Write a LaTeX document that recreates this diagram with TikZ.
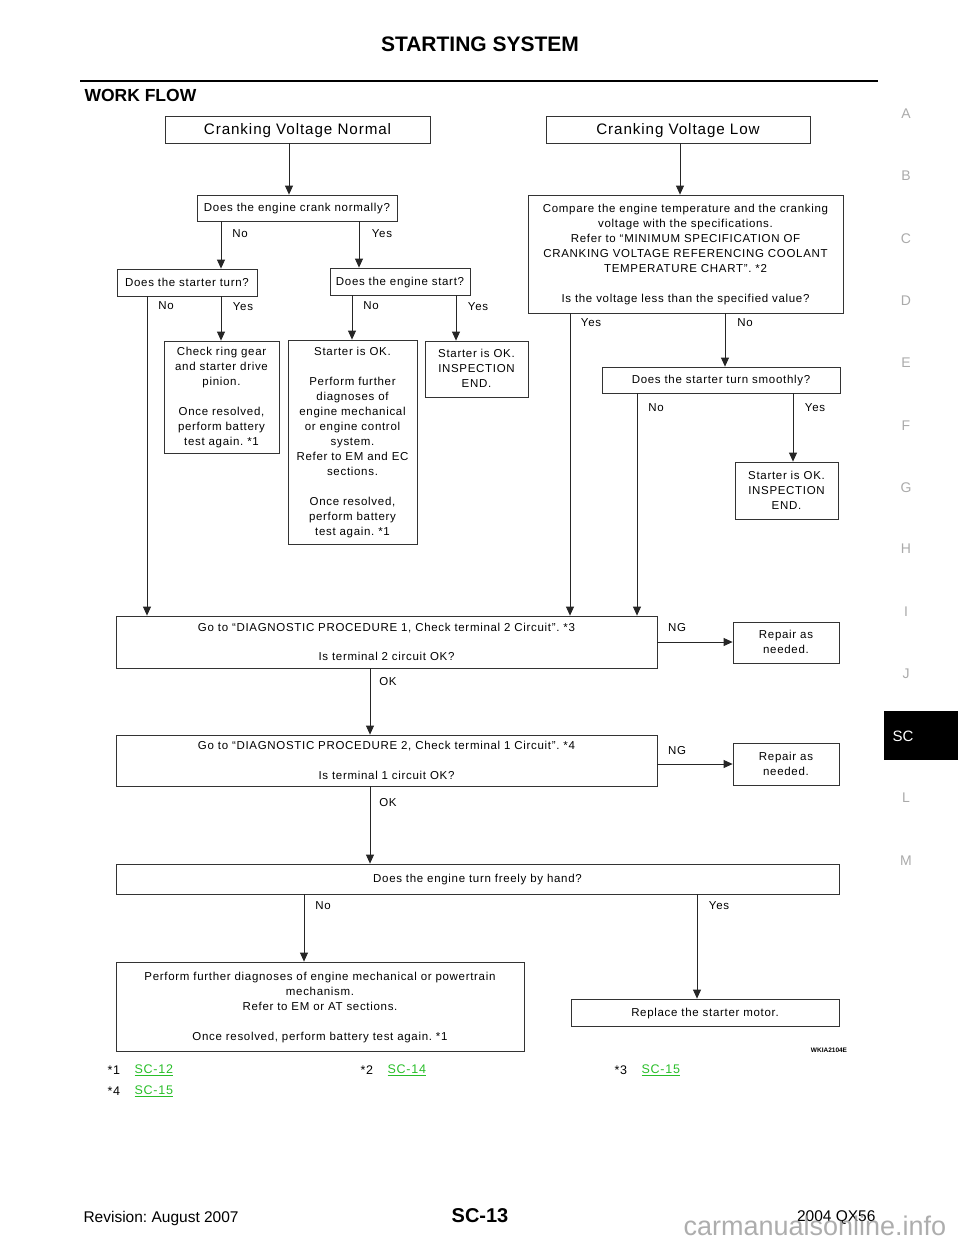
\documentclass[tikz,border=0pt]{standalone}
\usepackage{fontspec}
\setmainfont{Liberation Sans}[LetterSpace=6]
\newfontfamily\headfont{Liberation Sans}
\usetikzlibrary{arrows.meta}
\definecolor{linkgreen}{RGB}{40,190,40}
\definecolor{tabgray}{RGB}{170,170,170}
\frenchspacing

\begin{document}
\begin{tikzpicture}[x=1pt, y=-1pt,
    box/.style={draw=black!80, line width=0.8pt, align=center, inner sep=0pt, text depth=0.5pt, font=\fontsize{11.5}{15}\selectfont},
    title/.style={box, font=\fontsize{15.2}{18}\selectfont},
    flow/.style={draw=black!85, line width=0.8pt, -{Triangle[length=9pt,width=8pt]}},
    lbl/.style={font=\fontsize{11.5}{13}\selectfont},
    tab/.style={text=tabgray, font=\headfont\fontsize{14}{16}\selectfont},
    link/.style={text=linkgreen, anchor=west, font=\fontsize{12.5}{14}\selectfont},
    note/.style={anchor=west, font=\fontsize{12.5}{14}\selectfont}]
  \useasboundingbox (0,0) rectangle (960,1242);

  % page head
  \node[font=\headfont\bfseries\fontsize{21}{24}\selectfont] (head) at (480,44) {STARTING SYSTEM};
  \draw[line width=2.5pt] (80,81) -- (878,81);
  \node[anchor=west, font=\headfont\bfseries\fontsize{17.5}{20}\selectfont] (work) at (81,95) {WORK FLOW};

  % side tabs
  \foreach \l/\y in {A/114, B/176, C/239, D/301, E/363, F/426, G/488, H/549, I/612, J/674, L/798, M/861}
    \node[tab] (tab-\l) at (906,\y) {\l};
  \fill[black] (884,711) rectangle (958,760);
  \node[text=white, font=\headfont\fontsize{15}{17}\selectfont] (tab-SC) at (903,736) {SC};

  % top row
  \node[title, minimum width=265pt, minimum height=27pt] (normal) at (297.5,129.5) {Cranking Voltage Normal};
  \node[title, minimum width=264pt, minimum height=27pt] (low) at (678,129.5) {Cranking Voltage Low};

  \node[box, minimum width=200pt, minimum height=26pt] (crank) at (297,208) {Does the engine crank normally?};
  \node[box, minimum width=315pt, minimum height=118pt] (compare) at (685.5,254)
    {Compare the engine temperature and the cranking\\voltage with the specifications.\\Refer to “MINIMUM SPECIFICATION OF\\CRANKING VOLTAGE REFERENCING COOLANT\\TEMPERATURE CHART”. *2\\[15pt]Is the voltage less than the specified value?};

  \node[box, minimum width=140pt, minimum height=27pt] (turn) at (187,282.5) {Does the starter turn?};
  \node[box, minimum width=140pt, minimum height=27pt] (start) at (400,281.5) {Does the engine start?};

  \node[box, minimum width=115pt, minimum height=112pt] (ring) at (221.5,397)
    {Check ring gear\\and starter drive\\pinion.\\[15pt]Once resolved,\\perform battery\\test again. *1};
  \node[box, minimum width=129pt, minimum height=204pt] (further) at (352.5,442)
    {Starter is OK.\\[15pt]Perform further\\diagnoses of\\engine mechanical\\or engine control\\system.\\Refer to EM and EC\\sections.\\[15pt]Once resolved,\\perform battery\\test again. *1};
  \node[box, minimum width=103pt, minimum height=56pt] (endA) at (476.5,369) {Starter is OK.\\INSPECTION\\END.};

  \node[box, minimum width=238pt, minimum height=26pt] (smooth) at (721,380) {Does the starter turn smoothly?};
  \node[box, minimum width=103pt, minimum height=57pt] (endB) at (786.5,490.5) {Starter is OK.\\INSPECTION\\END.};

  % circuit checks
  \node[box, minimum width=541pt, minimum height=52pt] (diagA) at (386.5,642)
    {Go to “DIAGNOSTIC PROCEDURE 1, Check terminal 2 Circuit”. *3\\[14pt]Is terminal 2 circuit OK?};
  \node[box, minimum width=106pt, minimum height=41pt] (repairA) at (786,642.5) {Repair as\\needed.};
  \node[box, minimum width=541pt, minimum height=51pt] (diagB) at (386.5,760.5)
    {Go to “DIAGNOSTIC PROCEDURE 2, Check terminal 1 Circuit”. *4\\[15pt]Is terminal 1 circuit OK?};
  \node[box, minimum width=106pt, minimum height=42pt] (repairB) at (786,764) {Repair as\\needed.};

  \node[box, minimum width=723pt, minimum height=30pt] (hand) at (477.5,879) {Does the engine turn freely by hand?};
  \node[box, minimum width=408pt, minimum height=89pt] (power) at (320,1006.5)
    {Perform further diagnoses of engine mechanical or powertrain\\mechanism.\\Refer to EM or AT sections.\\[15pt]Once resolved, perform battery test again. *1};
  \node[box, minimum width=268pt, minimum height=27pt] (replace) at (705,1012.5) {Replace the starter motor.};

  % connectors
  \draw[flow] (normal.south -| 289,0) -- (crank.north -| 289,0);
  \draw[flow] (low.south -| 680,0) -- (compare.north -| 680,0);
  \draw[flow] (crank.south -| 221,0) -- (turn.north -| 221,0);
  \draw[flow] (crank.south -| 359,0) -- (start.north -| 359,0);
  \draw[flow] (turn.south -| 147,0) -- (diagA.north -| 147,0);
  \draw[flow] (turn.south -| 221,0) -- (ring.north -| 221,0);
  \draw[flow] (start.south -| 352,0) -- (further.north -| 352,0);
  \draw[flow] (start.south -| 456,0) -- (endA.north -| 456,0);
  \draw[flow] (compare.south -| 570,0) -- (diagA.north -| 570,0);
  \draw[flow] (compare.south -| 725,0) -- (smooth.north -| 725,0);
  \draw[flow] (smooth.south -| 637,0) -- (diagA.north -| 637,0);
  \draw[flow] (smooth.south -| 793,0) -- (endB.north -| 793,0);
  \draw[flow] (diagA.east) -- (diagA.east -| repairA.west);
  \draw[flow] (diagA.south -| 370,0) -- (diagB.north -| 370,0);
  \draw[flow] (repairB.west -| diagB.east) -- (repairB.west);
  \draw[flow] (diagB.south -| 370,0) -- (hand.north -| 370,0);
  \draw[flow] (hand.south -| 304,0) -- (power.north -| 304,0);
  \draw[flow] (hand.south -| 697,0) -- (replace.north -| 697,0);

  % branch labels
  \node[lbl] (no1) at (240,234) {No};
  \node[lbl] (yes1) at (382,234) {Yes};
  \node[lbl] (no2) at (166,306) {No};
  \node[lbl] (yes2) at (243,307) {Yes};
  \node[lbl] (no3) at (371,306) {No};
  \node[lbl] (yes3) at (478,307) {Yes};
  \node[lbl] (yes4) at (591,323) {Yes};
  \node[lbl] (no4) at (745,323) {No};
  \node[lbl] (no5) at (656,408) {No};
  \node[lbl] (yes5) at (815,408) {Yes};
  \node[lbl] (ng1) at (677,628) {NG};
  \node[lbl] (ok1) at (388,682) {OK};
  \node[lbl] (ng2) at (677,751) {NG};
  \node[lbl] (ok2) at (388,803) {OK};
  \node[lbl] (no6) at (323,906) {No};
  \node[lbl] (yes6) at (719,906) {Yes};

  \node[font=\headfont\bfseries\fontsize{6.5}{7}\selectfont] (code) at (829,1050) {WKIA2104E};

  % references
  \node[note] (r1) at (104,1070) {*1};
  \node[link] (s1) at (131,1070) {\underline{SC-12}};
  \node[note] (r2) at (357,1070) {*2};
  \node[link] (s2) at (384,1070) {\underline{SC-14}};
  \node[note] (r3) at (611,1070) {*3};
  \node[link] (s3) at (638,1070) {\underline{SC-15}};
  \node[note] (r4) at (104,1091) {*4};
  \node[link] (s4) at (131,1091) {\underline{SC-15}};

  % page foot
  \node[anchor=west, font=\headfont\fontsize{15.5}{17}\selectfont] (rev) at (80,1218) {Revision: August 2007};
  \node[font=\headfont\bfseries\fontsize{20}{22}\selectfont] (page) at (480,1216) {SC-13};
  \node[anchor=east, font=\headfont\fontsize{15.5}{17}\selectfont] (model) at (879,1218) {2004 QX56};
  \node[anchor=base west, text=black!40, opacity=0.8, font=\headfont\fontsize{27}{30}\selectfont] (mark) at (680,1235) {carmanualsonline.info};
\end{tikzpicture}
\end{document}
